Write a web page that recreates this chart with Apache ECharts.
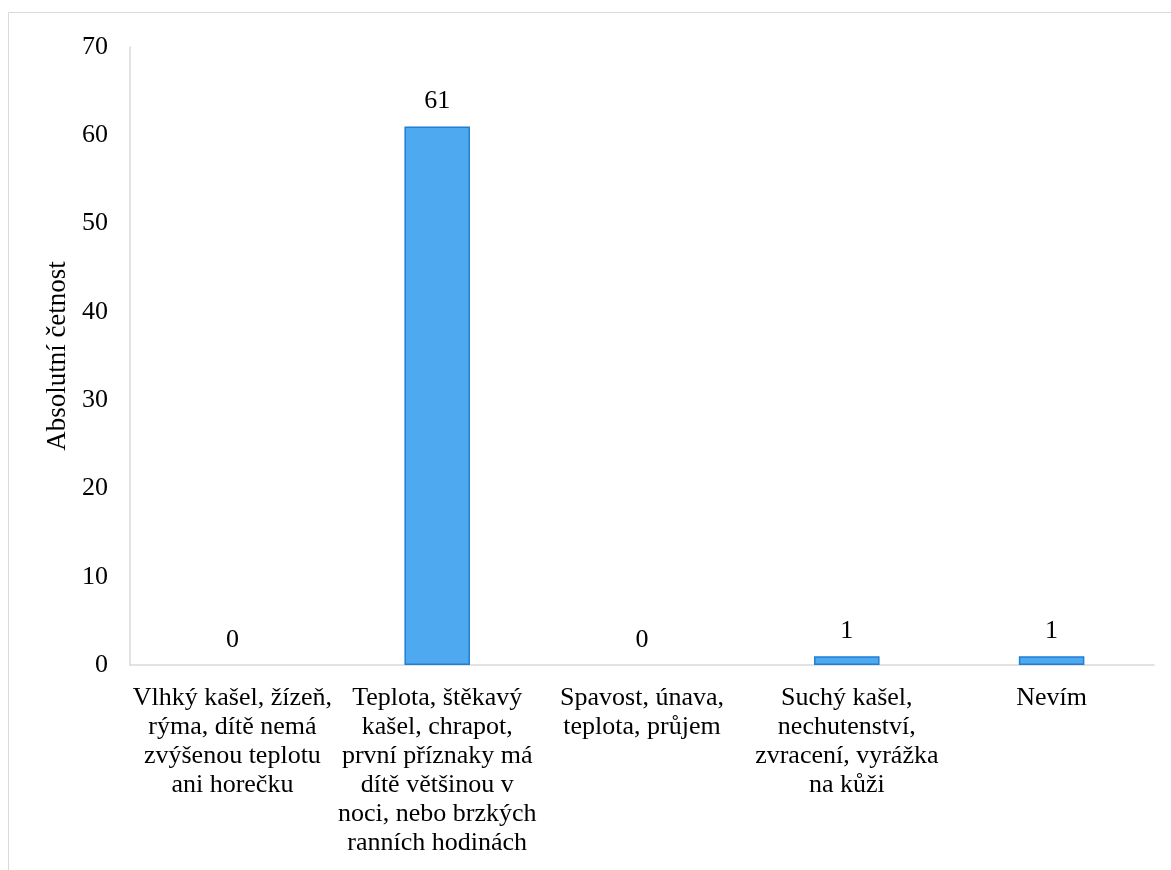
<!DOCTYPE html>
<html>
<head>
<meta charset="utf-8">
<script src="https://cdn.jsdelivr.net/npm/echarts@6/dist/echarts.min.js"></script>
<style>
  html, body { margin: 0; padding: 0; background: #ffffff; }
  #chart { width: 1171px; height: 870px; }
</style>
</head>
<body>
<div id="chart"></div>
<script>
// Příznaky – absolutní četnost odpovědí
const categories = [
  'Vlhký kašel, žízeň,\nrýma, dítě nemá\nzvýšenou teplotu\nani horečku',
  'Teplota, štěkavý\nkašel, chrapot,\nprvní příznaky má\ndítě většinou v\nnoci, nebo brzkých\nranních hodinách',
  'Spavost, únava,\nteplota, průjem',
  'Suchý kašel,\nnechutenství,\nzvracení, vyrážka\nna kůži',
  'Nevím'
];
const counts = [0, 61, 0, 1, 1];
const yAxisTitle = 'Absolutní četnost';

const FONT = '"Liberation Serif", "Times New Roman", serif';

// zero-height bars get no outline so only their value label shows
const barData = counts.map(v => v === 0
  ? { value: v, itemStyle: { borderWidth: 0 } }
  : { value: v });

const chart = echarts.init(document.getElementById('chart'), null, { renderer: 'canvas' });
chart.setOption({
  backgroundColor: '#ffffff',
  animation: false,
  textStyle: { fontFamily: FONT },
  graphic: [{
    type: 'rect',
    shape: { x: 8.5, y: 12.5, width: 1300, height: 1000 },
    style: { fill: 'none', stroke: '#d9d9d9', lineWidth: 1 },
    silent: true,
    z: -1
  }],
  grid: { left: 130, right: 17, top: 47, bottom: 205, containLabel: false },
  xAxis: {
    type: 'category',
    data: categories,
    axisLine: { show: true, lineStyle: { color: '#d9d9d9', width: 1.5 } },
    axisTick: { show: false },
    axisLabel: {
      interval: 0,
      margin: 19,
      color: '#000000',
      fontFamily: FONT,
      fontSize: 26,
      lineHeight: 29,
      align: 'center',
      verticalAlign: 'top'
    },
    splitLine: { show: false }
  },
  yAxis: {
    type: 'value',
    min: 0,
    max: 70,
    interval: 10,
    name: yAxisTitle,
    nameLocation: 'middle',
    nameRotate: 90,
    nameGap: 59,
    nameTextStyle: { color: '#000000', fontFamily: FONT, fontSize: 27 },
    axisLine: { show: true, lineStyle: { color: '#d9d9d9', width: 1.5 } },
    axisTick: { show: false },
    axisLabel: { color: '#000000', fontFamily: FONT, fontSize: 26, margin: 22 },
    splitLine: { show: false }
  },
  series: [{
    type: 'bar',
    data: barData,
    barWidth: '32%',
    itemStyle: { color: '#4EA9F0', borderColor: '#1F7FD2', borderWidth: 1.5 },
    label: {
      show: true,
      position: 'top',
      distance: 12,
      color: '#000000',
      fontFamily: FONT,
      fontSize: 26
    }
  }]
});
</script>
</body>
</html>
